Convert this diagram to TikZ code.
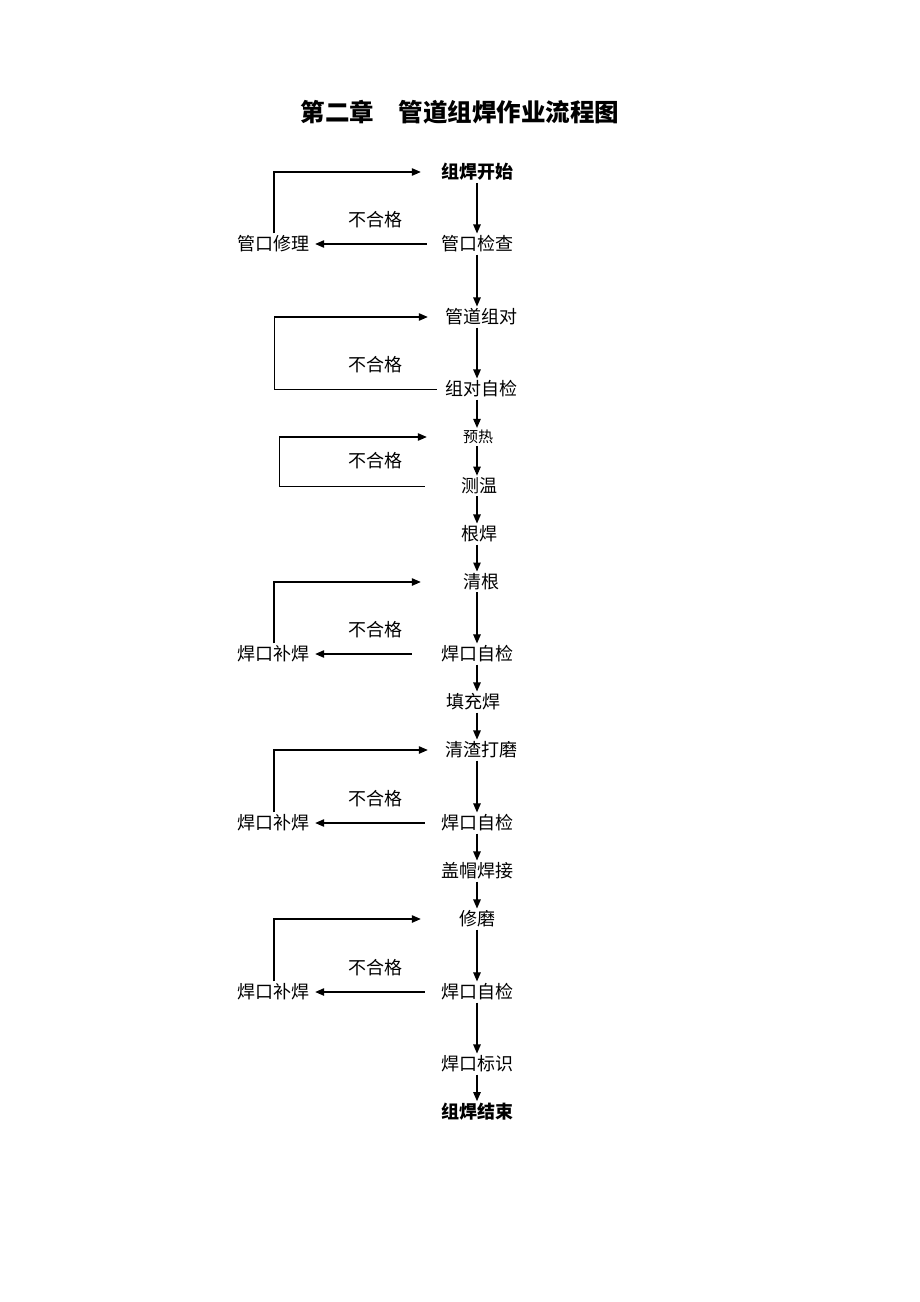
\documentclass[tikz,border=0pt]{standalone}
\usepackage{fontspec}
\setmainfont{Noto Sans CJK SC}
\usetikzlibrary{arrows.meta,calc}
\tikzset{
  box/.style={inner sep=2pt, font=\fontsize{18}{20}\selectfont},
  smallbox/.style={inner sep=2pt, font=\fontsize{15}{17}\selectfont},
  boldbox/.style={inner sep=2pt, font=\fontsize{18}{20}\selectfont\bfseries},
  lbl/.style={inner sep=0pt, font=\fontsize{18}{20}\selectfont},
  arr/.style={line width=1.1pt, -{Triangle[length=9pt,width=7.5pt]}},
  ln/.style={line width=1pt}
}
\begin{document}
\begin{tikzpicture}[x=1pt,y=-1pt]
\path[use as bounding box] (0,0) rectangle (920,1302);
\node[inner sep=0pt, font=\fontsize{24.5}{26}\selectfont\bfseries] (title) at (460,112) {第二章\quad 管道组焊作业流程图};
\coordinate (M) at (477,0);
\coordinate (LX) at (274,0);
\coordinate (LY) at (279,0);
% main column
\node[boldbox] (n1) at (477,172) {组焊开始};
\node[box] (n2) at (477,244) {管口检查};
\node[box] (n3) at (481,317) {管道组对};
\node[box] (n4) at (481,389) {组对自检};
\node[smallbox] (n5) at (478,437) {预热};
\node[box] (n6) at (479,486) {测温};
\node[box] (n7) at (479,534) {根焊};
\node[box] (n8) at (481,582) {清根};
\node[box] (n9) at (477,654) {焊口自检};
\node[box] (n10) at (473,702) {填充焊};
\node[box] (n11) at (481,750) {清渣打磨};
\node[box] (n12) at (477,823) {焊口自检};
\node[box] (n13) at (477,871) {盖帽焊接};
\node[box] (n14) at (477,919) {修磨};
\node[box] (n15) at (477,992) {焊口自检};
\node[box] (n16) at (477,1064) {焊口标识};
\node[boldbox] (n17) at (477,1112) {组焊结束};
% left nodes
\node[box] (r1) at (273,244) {管口修理};
\node[box] (r2) at (273,654) {焊口补焊};
\node[box] (r3) at (273,823) {焊口补焊};
\node[box] (r4) at (273,992) {焊口补焊};
% labels
\node[lbl] (f1) at (375,220) {不合格};
\node[lbl] (f2) at (375,365) {不合格};
\node[lbl] (f3) at (375,461) {不合格};
\node[lbl] (f4) at (375,630) {不合格};
\node[lbl] (f5) at (375,799) {不合格};
\node[lbl] (f6) at (375,968) {不合格};
% main arrows
\foreach \a/\b in {n1/n2,n2/n3,n3/n4,n4/n5,n5/n6,n6/n7,n7/n8,n8/n9,n9/n10,n10/n11,n11/n12,n12/n13,n13/n14,n14/n15,n15/n16,n16/n17}
  \draw[arr] (\a.south -| M) -- (\b.north -| M);
% fail arrows
\draw[arr] ([xshift=-12pt]n2.west) -- ([xshift=4pt]r1.east);
\draw[arr] ([xshift=-27pt]n9.west) -- ([xshift=4pt]r2.east);
\draw[arr] ([xshift=-14pt]n12.west) -- ([xshift=4pt]r3.east);
\draw[arr] ([xshift=-14pt]n15.west) -- ([xshift=4pt]r4.east);
% return loops
\draw[arr] (r1.north -| LX) |- ([xshift=-18pt]n1.west);
\draw[ln] ([xshift=-6pt]n4.west) -| (LX |- n3.west);
\draw[arr] (LX |- n3.west) -- ([xshift=-15pt]n3.west);
\draw[ln] ([xshift=-34pt]n6.west) -| (LY |- n5.west);
\draw[arr] (LY |- n5.west) -- ([xshift=-34pt]n5.west);
\draw[arr] (r2.north -| LX) |- ([xshift=-40pt]n8.west);
\draw[arr] (r3.north -| LX) |- ([xshift=-15pt]n11.west);
\draw[arr] (r4.north -| LX) |- ([xshift=-36pt]n14.west);
\end{tikzpicture}
\end{document}
